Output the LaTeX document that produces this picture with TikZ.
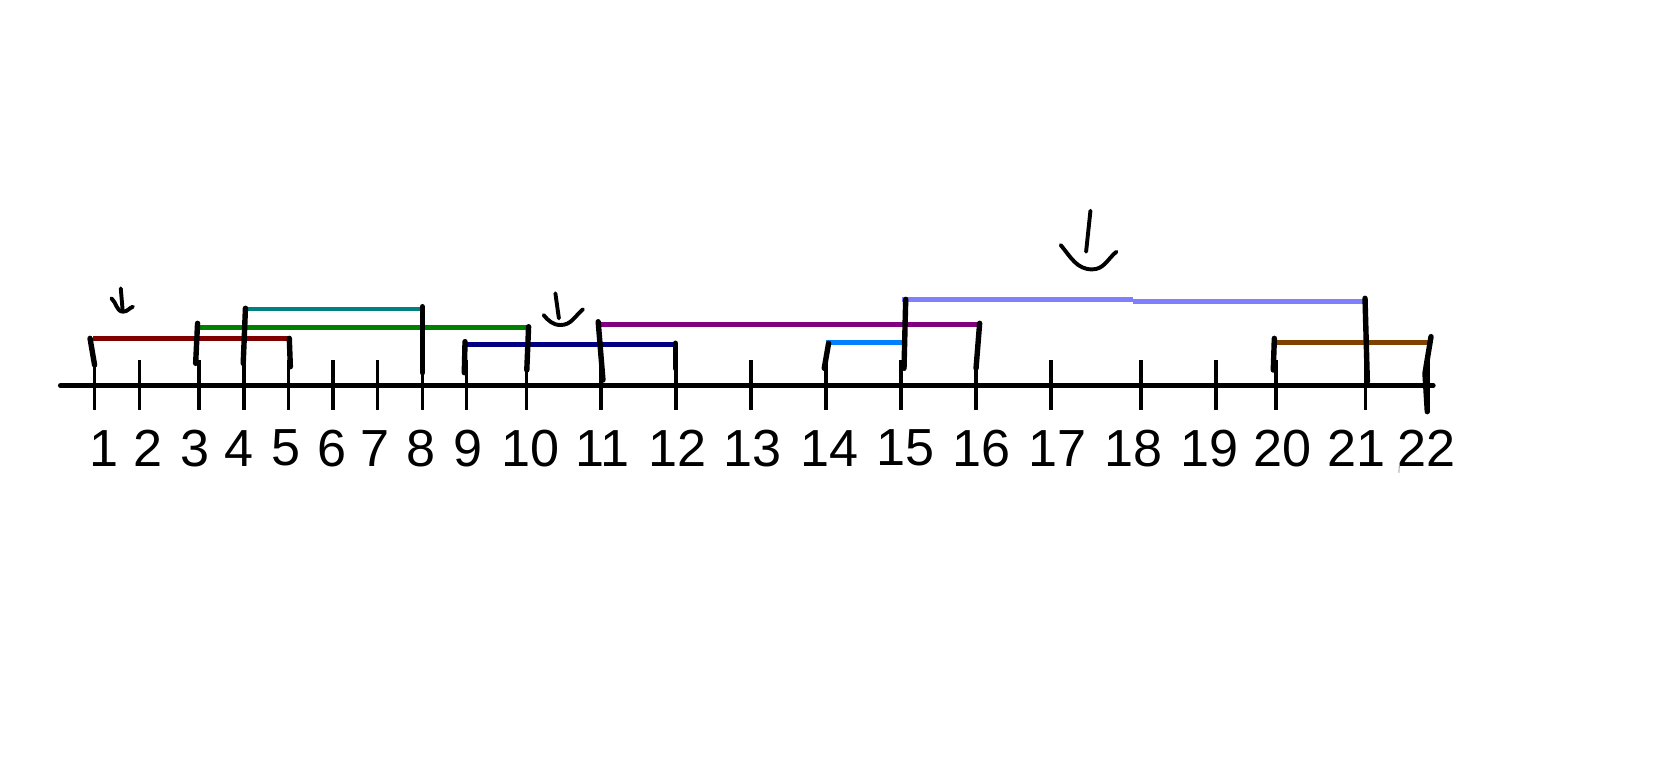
\documentclass[tikz,border=0pt]{standalone}
\usepackage{fontspec}
\setmainfont{Liberation Sans}
\definecolor{cMaroon}{RGB}{128,0,0}
\definecolor{cGreen}{RGB}{0,128,0}
\definecolor{cTeal}{RGB}{0,128,128}
\definecolor{cNavy}{RGB}{0,0,128}
\definecolor{cPurple}{RGB}{128,0,128}
\definecolor{cSky}{RGB}{0,128,255}
\definecolor{cPeri}{RGB}{128,128,255}
\definecolor{cBrown}{RGB}{128,64,0}
\begin{document}
\begin{tikzpicture}[x=0.01cm,y=-0.01cm,
  axisline/.style={line width=1.3pt,line cap=round},
  tickline/.style={line width=0.95pt},
  span/.style={line width=1.3pt},
  endmark/.style={line width=1.45pt,line cap=round},
  hand/.style={line width=1.05pt,line cap=round,line join=round},
  lab/.style={inner sep=0pt,font=\fontsize{14}{16}\selectfont}]
\useasboundingbox (0,0) rectangle (1568,735);
% axis
\coordinate (axL) at (57,364);
\coordinate (axR) at (1353,364);
\draw[axisline] (axL) -- (axR);
% ticks and labels
\foreach \i/\tx/\lx in {1/89.3/97.8,2/131.5/139.9,3/188.1/183.7,4/230.2/225.9,5/272.4/269.7,6/314.5/313.5,7/356.4/354,8/398.8/397.8,9/440.3/441.7,10/496.9/500.7,11/567.4/568.4,12/638.2/640,13/709/710.8,14/779.8/783.2,15/850.6/855,16/921.4/926.5,17/992.2/998,18/1077.2/1070.5,19/1148/1141.6,20/1204.6/1210.9,21/1289.2/1280.7,22/1347.8/1346.8}{
  \coordinate (t\i top) at (\tx,340);
  \coordinate (t\i bot) at (\tx,387);
  \draw[tickline] (t\i top) -- (t\i bot);
  \node[lab] (l\i) at (\lx,423) {\i};
}
% coloured spans
\coordinate (rA) at (87.7,319.4);  \coordinate (rB) at (273.1,319.4);
\coordinate (gA) at (185.4,309);   \coordinate (gB) at (499,309);
\coordinate (tA) at (229.3,291.7); \coordinate (tB) at (398.8,291.7);
\coordinate (nA) at (439,325);     \coordinate (nB) at (639,325);
\coordinate (pA) at (565.7,306.2); \coordinate (pB) at (924.8,306.2);
\coordinate (sA) at (779.8,323.2); \coordinate (sB) at (852.3,323.2);
\coordinate (vA) at (851.5,282.8); \coordinate (vM) at (1069.6,282.8);
\coordinate (vN) at (1069.6,284.4); \coordinate (vB) at (1287,284.4);
\coordinate (bA) at (1204.6,323.2); \coordinate (bB) at (1350,323.2);
\draw[span,cMaroon] (rA) -- (rB);
\draw[span,cGreen] (gA) -- (gB);
\draw[span,cTeal] (tA) -- (tB);
\draw[span,cNavy] (nA) -- (nB);
\draw[span,cPurple] (pA) -- (pB);
\draw[span,cSky] (sA) -- (sB);
\draw[span,cPeri] (vA) -- (vM);
\draw[span,cPeri] (vN) -- (vB);
\draw[span,cBrown] (bA) -- (bB);
% black end marks
\coordinate (m1a) at (85,319.4);    \coordinate (m1b) at (89.3,344.6);
\coordinate (m5a) at (273.1,319.4); \coordinate (m5b) at (274.1,346.2);
\coordinate (m3a) at (186.5,305.2); \coordinate (m3b) at (184.7,343);
\coordinate (m10a) at (499,308.4);  \coordinate (m10b) at (497.3,349.3);
\coordinate (m4a) at (231.7,291);   \coordinate (m4b) at (229.6,343);
\coordinate (m8a) at (398.8,289.5); \coordinate (m8b) at (398.8,351.8);
\coordinate (m9a) at (439,322.5);   \coordinate (m9b) at (438.3,351.8);
\coordinate (m12a) at (637.6,324);  \coordinate (m12b) at (637.6,347.7);
\coordinate (m11a) at (564.7,303.7); \coordinate (m11b) at (569.2,358.7);
\coordinate (m16a) at (924.8,305.2); \coordinate (m16b) at (921.4,347.7);
\coordinate (m14a) at (782.2,324.1); \coordinate (m14b) at (778.1,347.7);
\coordinate (m15a) at (855,282.6);  \coordinate (m15b) at (853.4,347.7);
\coordinate (m21a) at (1288.6,281.6); \coordinate (m21b) at (1290.8,360.3);
\coordinate (m20a) at (1203,319.4); \coordinate (m20b) at (1202,349.3);
\coordinate (m22a) at (1350.9,317.8); \coordinate (m22b) at (1345.2,352.4);
\coordinate (m22c) at (1347.4,388.6);
\foreach \a/\b in {m1a/m1b,m5a/m5b,m3a/m3b,m10a/m10b,m4a/m4b,m8a/m8b,m9a/m9b,m12a/m12b,m11a/m11b,m16a/m16b,m14a/m14b,m15a/m15b,m21a/m21b,m20a/m20b}
  \draw[endmark] (\a) -- (\b);
\draw[endmark] (m22a) -- (m22b) -- (m22c);
% hand-drawn arrows
\coordinate (h1s) at (114,272.2);  \coordinate (h1e) at (115.7,292);
\coordinate (h1l) at (105.2,281.6); \coordinate (h1m) at (116.3,294.2); \coordinate (h1r) at (125.5,289.5);
\draw[hand] (h1s) -- (h1e);
\draw[hand] (h1l) to[out=-40,in=180] (h1m) to[out=0,in=-160] (h1r);
\coordinate (h2s) at (524.3,276.9); \coordinate (h2e) at (527.6,300.5);
\coordinate (h2l) at (513.2,297.4); \coordinate (h2m) at (529.3,306.8); \coordinate (h2r) at (550.3,292);
\draw[hand] (h2s) -- (h2e);
\draw[hand] (h2l) to[out=-50,in=180] (h2m) to[out=0,in=-140] (h2r);
\coordinate (h3s) at (1029.4,198.9); \coordinate (h3e) at (1025.3,237.6);
\coordinate (h3l) at (1001.3,231.3); \coordinate (h3m) at (1031,254.3); \coordinate (h3r) at (1053.9,237.6);
\draw[hand] (h3s) -- (h3e);
\draw[hand] (h3l) to[out=-50,in=180] (h3m) to[out=0,in=-140] (h3r);
% tiny stray mark
\coordinate (sx1) at (1321,440); \coordinate (sx2) at (1320.5,446.5);
\draw[line width=0.3pt,gray!60] (sx1) -- (sx2);
\end{tikzpicture}
\end{document}
